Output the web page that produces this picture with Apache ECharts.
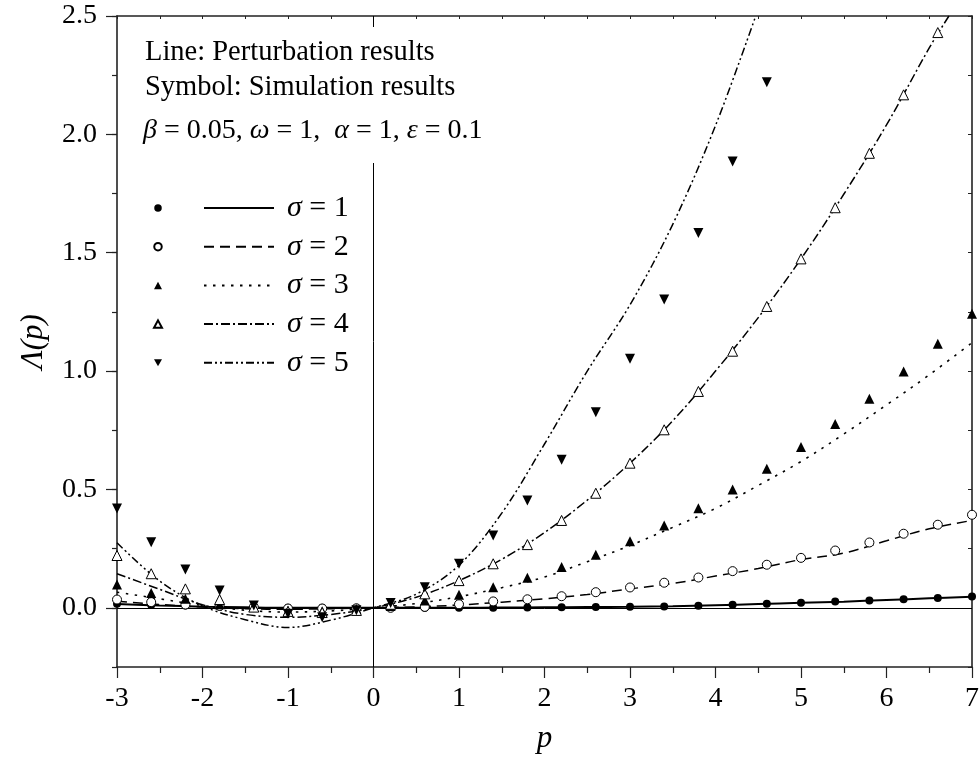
<!DOCTYPE html>
<html><head><meta charset="utf-8">
<script src="https://cdn.jsdelivr.net/npm/echarts@6/dist/echarts.min.js"></script>
<style>html,body{margin:0;padding:0;background:#fff}#c{width:979px;height:761px}</style>
</head><body><div id="c"></div>
<script>
// ---- Data ----
const simX = [-3, -2.6, -2.2, -1.8, -1.4, -1.0, -0.6, -0.2, 0.2, 0.6, 1.0, 1.4, 1.8, 2.2, 2.6, 3.0, 3.4, 3.8, 4.2, 4.6, 5.0, 5.4, 5.8, 6.2, 6.6, 7.0];
const sim1 = [0.017, 0.012, 0.010, 0.006, 0.003, 0.000, 0.000, 0.000, 0.000, 0.000, 0.000, 0.000, 0.001, 0.002, 0.003, 0.004, 0.006, 0.009, 0.013, 0.017, 0.021, 0.027, 0.031, 0.036, 0.042, 0.048];
const sim2 = [0.035, 0.024, 0.014, 0.008, 0.003, -0.003, -0.003, -0.002, 0.000, 0.004, 0.015, 0.027, 0.036, 0.049, 0.066, 0.086, 0.106, 0.128, 0.155, 0.182, 0.211, 0.242, 0.276, 0.313, 0.351, 0.393];
const sim3 = [0.098, 0.063, 0.038, 0.015, 0.005, -0.012, -0.015, -0.005, 0.008, 0.031, 0.055, 0.087, 0.127, 0.172, 0.224, 0.281, 0.348, 0.421, 0.500, 0.587, 0.679, 0.777, 0.883, 0.998, 1.115, 1.242];
const sim4 = [0.221, 0.144, 0.080, 0.035, 0.003, -0.015, -0.020, -0.011, 0.015, 0.059, 0.115, 0.186, 0.267, 0.369, 0.484, 0.611, 0.752, 0.914, 1.084, 1.273, 1.474, 1.690, 1.920, 2.167, 2.430];
const sim5 = [0.420, 0.277, 0.162, 0.073, 0.010, -0.025, -0.040, -0.010, 0.020, 0.087, 0.186, 0.305, 0.453, 0.625, 0.826, 1.052, 1.302, 1.583, 1.885, 2.220];

const lineX = [-3, -2.5, -2, -1.5, -1, -0.5, 0, 0.5, 1, 1.5, 2, 2.5, 3, 3.5, 4, 4.5, 5, 5.5, 6, 6.5, 7];
const line1 = [0.016, 0.010, 0.005, 0.002, 0.000, 0.000, 0.000, 0.000, 0.000, 0.001, 0.002, 0.003, 0.004, 0.007, 0.011, 0.016, 0.021, 0.026, 0.033, 0.040, 0.047];
const line2 = [0.028, 0.014, 0.003, -0.004, -0.006, -0.004, 0.000, 0.004, 0.012, 0.024, 0.038, 0.056, 0.080, 0.103, 0.134, 0.166, 0.204, 0.231, 0.283, 0.334, 0.369];
const line3 = [0.066, 0.038, 0.010, -0.010, -0.018, -0.013, 0.000, 0.018, 0.047, 0.085, 0.130, 0.195, 0.263, 0.340, 0.420, 0.517, 0.618, 0.734, 0.857, 0.984, 1.120];
const line4X = [-3, -2.5, -2, -1.5, -1, -0.5, 0, 0.5, 1, 1.5, 2, 2.5, 3, 3.5, 4, 4.5, 5, 5.5, 6, 6.5, 6.73];
const line4 = [0.144, 0.078, 0.013, -0.028, -0.040, -0.028, 0.000, 0.045, 0.115, 0.205, 0.318, 0.455, 0.611, 0.790, 1.000, 1.226, 1.474, 1.747, 2.040, 2.365, 2.500];
const line5X = [-3, -2.5, -2, -1.5, -1, -0.5, 0, 0.5, 1, 1.5, 2, 2.5, 3, 3.5, 4, 4.47];
const line5 = [0.275, 0.113, 0.008, -0.050, -0.083, -0.052, 0.000, 0.058, 0.180, 0.400, 0.692, 1.000, 1.280, 1.620, 2.037, 2.500];

const sigmaLabels = ['1', '2', '3', '4', '5'];
const yMajorTicks = [0, 0.5, 1.0, 1.5, 2.0, 2.5];

// ---- Styling ----
const FONT = "'Liberation Serif', 'DejaVu Serif', serif";
const INK = '#000';
const AXIS = '#222';
const DOWN_TRI = 'path://M0,0L10,0L5,8.7Z';

const simStyles = [
  { symbol: 'circle', size: 8, fill: INK, rotate: 0, legendIcon: 'circle' },
  { symbol: 'circle', size: 9, fill: '#fff', rotate: 0, legendIcon: 'circle' },
  { symbol: 'triangle', size: 10, fill: INK, rotate: 0, legendIcon: 'triangle' },
  { symbol: 'triangle', size: 10, fill: '#fff', rotate: 0, legendIcon: 'triangle' },
  { symbol: 'triangle', size: 10, fill: INK, rotate: 180, legendIcon: DOWN_TRI }
];
const lineStyles = [
  { type: 'solid', width: 2 },
  { type: [10, 6], width: 1.5 },
  { type: [2.5, 6.5], width: 1.6 },
  { type: [9, 3, 2, 3], width: 1.5 },
  { type: [8, 3, 2, 3, 2, 3], width: 1.5 }
];

const lineXs = [lineX, lineX, lineX, line4X, line5X];
const lineYs = [line1, line2, line3, line4, line5];
const simYs = [sim1, sim2, sim3, sim4, sim5];

const zip = (xs, ys) => ys.map((y, i) => [xs[i], y]);

const lineNames = sigmaLabels.map(s => 'σ = ' + s);
const simNames = sigmaLabels.map(s => 'sim σ = ' + s);

const series = [];
lineYs.forEach((ys, k) => {
  const s = {
    name: lineNames[k], type: 'line', data: zip(lineXs[k], ys),
    smooth: 0.35, symbol: 'none', clip: true, z: 3,
    lineStyle: { color: INK, width: lineStyles[k].width, type: lineStyles[k].type },
    itemStyle: { color: INK },
    emphasis: { disabled: true }, silent: true
  };
  if (k === 0) {
    s.markLine = {
      silent: true, symbol: 'none', label: { show: false },
      lineStyle: { color: INK, width: 1, type: 'solid' },
      data: [{ xAxis: 0 }, { yAxis: 0 }], z: 1
    };
  }
  series.push(s);
});
simYs.forEach((ys, k) => {
  const st = simStyles[k];
  series.push({
    name: simNames[k], type: 'scatter', data: zip(simX, ys),
    symbol: st.symbol, symbolSize: st.size, symbolRotate: st.rotate, z: 4,
    itemStyle: { color: st.fill, borderColor: INK, borderWidth: st.fill === INK ? 0 : 1, opacity: 1 },
    emphasis: { disabled: true }, silent: true
  });
});

const chart = echarts.init(document.getElementById('c'), null, { renderer: 'canvas' });
chart.setOption({
  animation: false,
  backgroundColor: '#fff',
  textStyle: { fontFamily: FONT },
  grid: { left: 117, right: 7, top: 16, bottom: 94, containLabel: false, outerBoundsMode: 'none' },
  xAxis: [
    {
      type: 'value', min: -3, max: 7, interval: 1, position: 'bottom',
      axisLine: { show: true, onZero: false, lineStyle: { color: AXIS, width: 1.6 } },
      axisTick: { show: true, inside: false, length: 11, lineStyle: { color: AXIS, width: 1.2 } },
      minorTick: { show: true, splitNumber: 2, length: 6, lineStyle: { color: AXIS, width: 1.2 } },
      axisLabel: { fontSize: 28, fontFamily: FONT, color: INK, margin: 18 },
      splitLine: { show: false }, minorSplitLine: { show: false },
      name: 'p', nameLocation: 'middle', nameGap: 56,
      nameTextStyle: { fontSize: 31, fontFamily: FONT, fontStyle: 'italic', color: INK }
    },
    {
      type: 'value', min: -3, max: 7, interval: 0.5, position: 'top',
      axisLine: { show: true, onZero: false, lineStyle: { color: AXIS, width: 1.6 } },
      axisTick: { show: true, inside: true, length: 3, lineStyle: { color: AXIS, width: 1 } },
      axisLabel: { show: false }, splitLine: { show: false }
    }
  ],
  yAxis: [
    {
      type: 'value', min: -0.25, max: 2.5, interval: 0.25, position: 'left',
      axisLine: { show: true, onZero: false, lineStyle: { color: AXIS, width: 1.6 } },
      axisTick: { show: true, inside: false, length: 11, customValues: yMajorTicks, lineStyle: { color: AXIS, width: 1.2 } },
      axisLabel: { customValues: yMajorTicks, formatter: v => v.toFixed(1), fontSize: 28, fontFamily: FONT, color: INK, margin: 20 },
      splitLine: { show: false },
      name: 'Λ(p)', nameLocation: 'middle', nameGap: 68,
      nameTextStyle: { fontSize: 31, fontFamily: FONT, fontStyle: 'italic', color: INK }
    },
    {
      type: 'value', min: -0.25, max: 2.5, interval: 0.25, position: 'left',
      axisLine: { show: false, onZero: false },
      axisTick: { show: true, inside: false, length: 5, lineStyle: { color: AXIS, width: 1.2 } },
      axisLabel: { show: false }, splitLine: { show: false }
    },
    {
      type: 'value', min: -0.25, max: 2.5, interval: 0.25, position: 'right',
      axisLine: { show: true, onZero: false, lineStyle: { color: AXIS, width: 1.6 } },
      axisTick: { show: true, inside: true, length: 4, lineStyle: { color: AXIS, width: 1 } },
      axisLabel: { show: false }, splitLine: { show: false }
    }
  ],
  legend: [
    {
      data: simNames.map((n, k) => ({ name: n, icon: simStyles[k].legendIcon })),
      orient: 'vertical', left: 153, top: 193, padding: 0,
      itemWidth: 8, itemHeight: 7.5, itemGap: 8.7, selectedMode: false,
      formatter: () => ' ',
      textStyle: { fontSize: 27, lineHeight: 30, fontFamily: FONT, color: INK }
    },
    {
      data: lineNames, orient: 'vertical', left: 203, top: 193, padding: 0,
      itemWidth: 70, itemHeight: 14, itemGap: 8.7, selectedMode: false,
      itemStyle: { opacity: 0, color: 'transparent', borderWidth: 0 },
      formatter: name => '{i|σ} = ' + name.replace('σ = ', ''),
      textStyle: {
        fontSize: 30, lineHeight: 30, fontFamily: FONT, color: INK, padding: [0, 0, 0, 8],
        rich: { i: { fontStyle: 'italic', fontSize: 30, fontFamily: FONT, color: INK } }
      }
    }
  ],
  graphic: [
    { type: 'rect', x: 128, y: 27, shape: { width: 365, height: 136 }, style: { fill: '#fff' }, z: 50, silent: true },
    { type: 'text', x: 145, y: 53, z: 51, silent: true,
      style: { text: 'Line: Perturbation results', fontSize: 28.5, fontFamily: FONT, fill: INK, verticalAlign: 'middle' } },
    { type: 'text', x: 145, y: 88, z: 51, silent: true,
      style: { text: 'Symbol: Simulation results', fontSize: 28.5, fontFamily: FONT, fill: INK, verticalAlign: 'middle' } },
    { type: 'text', x: 143, y: 131, z: 51, silent: true,
      style: { text: '{i|β} = 0.05, {i|ω} = 1,  {i|α} = 1, {i|ε} = 0.1', fontSize: 28, fontFamily: FONT, fill: INK, verticalAlign: 'middle',
        rich: { i: { fontStyle: 'italic', fontSize: 28, fontFamily: FONT, fill: INK } } } }
  ],
  series: series
});
</script>
</body></html>
